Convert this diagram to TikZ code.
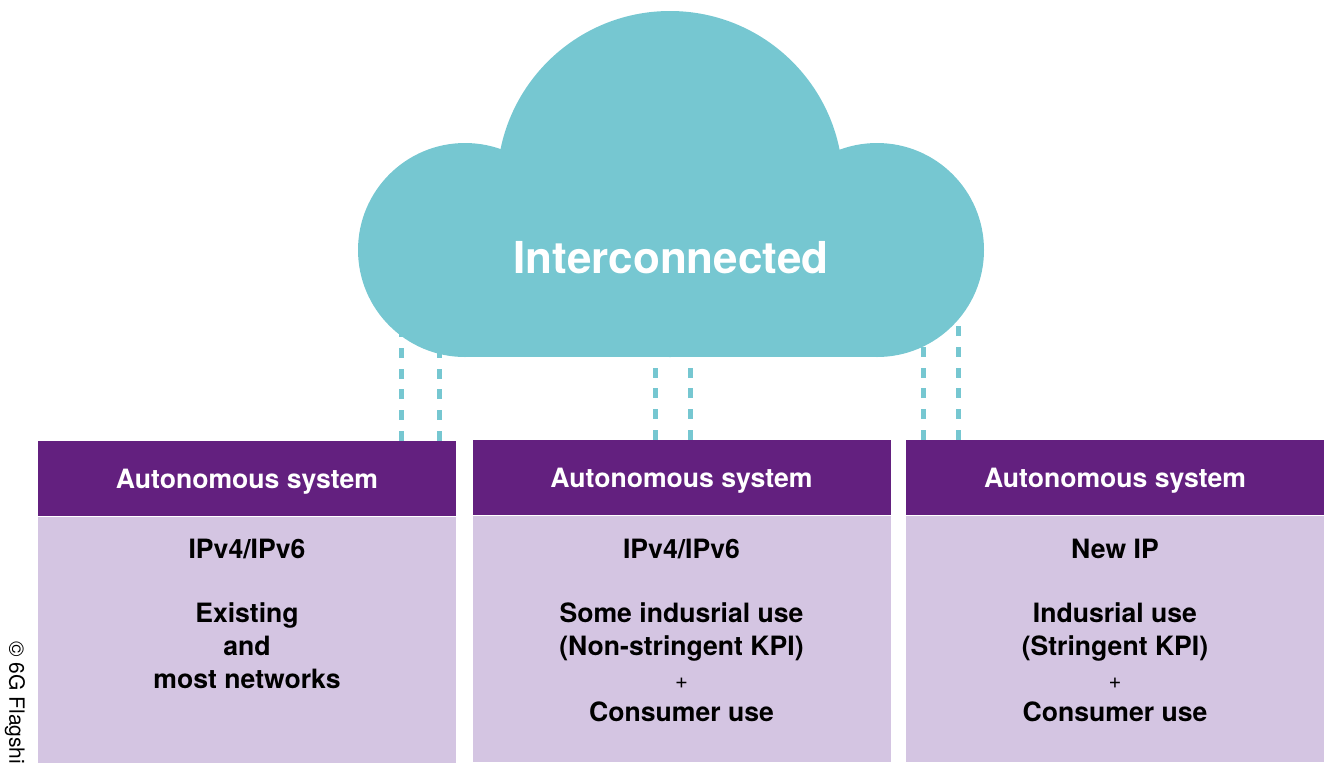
\documentclass[tikz,border=0pt]{standalone}
\usepackage{fontspec}
\setmainfont{TeX Gyre Heros}
\usepackage{xcolor}
\usetikzlibrary{positioning}
\definecolor{cloudteal}{RGB}{118,199,209}
\definecolor{aspurple}{RGB}{99,32,127}
\definecolor{aslilac}{RGB}{212,197,226}
\tikzset{%
	header/.style = {fill=aspurple, text=white, minimum width=209pt, minimum height=37.5pt, inner sep=0pt, text height=9.6pt, text depth=0pt, font=\bfseries\fontsize{13.3}{16}\selectfont},
	body/.style   = {fill=aslilac, minimum width=209pt, minimum height=123pt, inner sep=0pt},
	usage/.style  = {align=center, inner sep=0pt, font=\bfseries\fontsize{13.3}{16.5}\selectfont},
	link/.style   = {draw=cloudteal, line width=2.5pt, dash pattern=on 5pt off 5.35pt},
}
\newcommand{\asplus}{{\mdseries\fontsize{11}{16.5}\selectfont +}}

\begin{document}
\begin{tikzpicture}[x=0.5pt,y=-0.5pt]
	\useasboundingbox (0,0) rectangle (1324,762);
	
	% autonomous systems
	\node[header] (h1) at (247,478.5) {Autonomous system};
	\node[header] (h2) at (681.5,477.5) {Autonomous system};
	\node[header] (h3) at (1115,477.5) {Autonomous system};
	\foreach \i in {1,2,3} \node[body, below=0pt of h\i] (b\i) {};
	
	% base = last line
	\node[usage, anchor=base] (p1) at (247,558) {IPv4/IPv6};
	\node[usage, anchor=base] (p2) at (681.5,558) {IPv4/IPv6};
	\node[usage, anchor=base] (p3) at (1115,558) {New IP};
	\node[usage, anchor=base] (u1) at (247,688) {Existing\\and\\most networks};
	\node[usage, anchor=base] (u2) at (681.5,721) {Some indusrial use\\(Non-stringent KPI)\\\asplus\\Consumer use};
	\node[usage, anchor=base] (u3) at (1115,721) {Indusrial use\\(Stringent KPI)\\\asplus\\Consumer use};
	
	% links up into the cloud
	\foreach \x/\i [count=\n] in {401/1,439/1,655/2,690/2,923/3,958/3} {
		\coordinate (c\n) at (\x,300);
		\draw[link] (h\i.north -| c\n) -- (c\n);
	}
	
	% cloud
	\fill[cloudteal] (465,250) circle[radius=107];
	\fill[cloudteal] (877,250) circle[radius=107];
	\fill[cloudteal] (670,184) circle[radius=173];
	\fill[cloudteal] (465,250) rectangle (877,357);
	\node[font=\bfseries\fontsize{22}{26}\selectfont, text=white] (cloud) at (671,258) {Interconnected};
	
	\node[font=\fontsize{10.5}{12}\selectfont, rotate=-90, anchor=west, inner sep=0pt] (copy) at (15,641) {© 6G Flagship};
\end{tikzpicture}
\end{document}
